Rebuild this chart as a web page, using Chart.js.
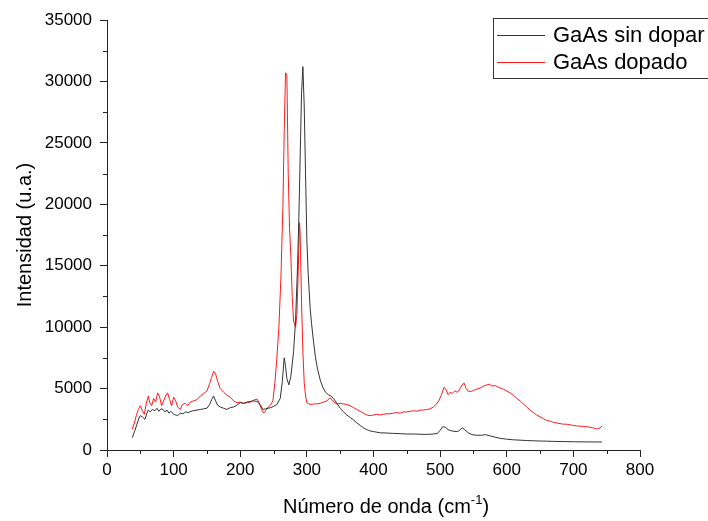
<!DOCTYPE html>
<html>
<head>
<meta charset="utf-8">
<script src="https://cdn.jsdelivr.net/npm/chart.js@4.4.1/dist/chart.umd.min.js"></script>
<style>
  body { margin: 0; background: #fff; }
  canvas { display: block; }
</style>
</head>
<body>
<canvas id="ramanChart" width="708" height="521"></canvas>
<script>
// Data

const seriesLabels = ["GaAs sin dopar", "GaAs dopado"];

const sinDoparX = [38, 42, 45, 48, 50, 53, 57, 60, 62, 65, 68, 72, 75, 78, 81, 84, 87, 90, 93, 96,
    100, 103, 106, 110, 114, 118, 122, 126, 130, 135, 140, 145, 150, 154, 157, 160, 163, 166, 170, 175,
    180, 185, 190, 195, 200, 205, 210, 215, 220, 225, 230, 234, 238, 242, 246, 250, 255, 260, 263, 266,
    268, 270, 273, 276, 280, 283, 286, 288, 290, 292, 294, 296, 298, 300, 302, 305, 307, 310, 313, 316,
    320, 324, 328, 332, 336, 340, 345, 350, 355, 360, 365, 370, 375, 380, 385, 390, 395, 400, 410, 420,
    430, 440, 450, 460, 470, 480, 490, 496, 500, 504, 508, 512, 518, 524, 528, 533, 537, 542, 548, 555,
    562, 568, 575, 582, 590, 600, 610, 620, 630, 640, 650, 660, 670, 680, 690, 700, 710, 720, 730, 743];
const sinDoparY = [1000, 1600, 2100, 2600, 2800, 2700, 2500, 3000, 3250, 3100, 3300, 3200, 3400, 3150, 3350, 3300, 3100, 3250, 3000, 3150,
    2900, 2850, 2800, 3000, 2950, 3100, 3050, 3150, 3200, 3250, 3300, 3350, 3400, 3700, 4100, 4400, 4000, 3650, 3500, 3400,
    3300, 3450, 3500, 3650, 3850, 3800, 3900, 3950, 4000, 3950, 3700, 3300, 3350, 3400, 3450, 3550, 3700, 4200, 5500, 7500,
    6800, 5800, 5300, 6000, 8000, 10500, 15000, 19000, 24000, 29000, 31200, 28000, 22500, 17000, 14300, 11500, 10300, 8800, 7500, 6600,
    5700, 5100, 4700, 4500, 4400, 4200, 3800, 3400, 3100, 2850, 2650, 2450, 2200, 2000, 1800, 1650, 1550, 1500, 1400, 1380,
    1350, 1330, 1300, 1300, 1280, 1270, 1300, 1350, 1600, 1900, 1850, 1650, 1550, 1500, 1550, 1800, 1650, 1400, 1250, 1200,
    1200, 1250, 1150, 1050, 950, 880, 830, 800, 770, 750, 730, 720, 700, 690, 680, 670, 665, 660, 655, 650];

const dopadoX = [38, 41, 44, 47, 50, 53, 56, 59, 62, 64, 67, 70, 73, 76, 79, 82, 85, 88, 91, 94,
    97, 100, 103, 106, 110, 113, 117, 121, 125, 130, 135, 140, 145, 150, 154, 157, 160, 163, 166, 170,
    175, 180, 185, 190, 195, 200, 205, 210, 215, 220, 225, 228, 232, 235, 238, 242, 246, 249, 252, 255,
    258, 261, 264, 266, 268, 270, 272, 274, 276, 278, 280, 283, 285, 287, 289, 290, 292, 294, 296, 298,
    300, 305, 310, 315, 320, 325, 330, 335, 340, 345, 350, 355, 360, 365, 370, 375, 380, 385, 390, 395,
    400, 405, 410, 415, 420, 425, 430, 435, 440, 445, 450, 455, 460, 465, 470, 475, 480, 485, 490, 494,
    498, 502, 506, 509, 512, 515, 518, 522, 526, 530, 533, 536, 539, 542, 546, 550, 555, 560, 565, 570,
    574, 578, 582, 586, 590, 595, 600, 605, 610, 615, 620, 625, 630, 635, 640, 645, 650, 655, 660, 665,
    670, 675, 680, 685, 690, 695, 700, 705, 710, 715, 720, 725, 730, 735, 740, 743];
const dopadoY = [1700, 2200, 2800, 3300, 3600, 3200, 2900, 3800, 4400, 3900, 3600, 4200, 3900, 4650, 4300, 3600, 4000, 4400, 4650, 4100,
    3600, 4300, 4000, 3500, 3300, 3700, 3800, 3600, 3900, 4000, 4100, 4400, 4600, 4800, 5400, 5900, 6400, 6200, 5600, 5000,
    4700, 4450, 4300, 4000, 3850, 3900, 3800, 3850, 3900, 4050, 4150, 3900, 3300, 3000, 3200, 3500, 3700, 4000, 5500, 7500,
    10000, 14000, 19700, 26000, 30700, 30500, 22500, 18000, 15700, 12500, 10500, 10000, 11000, 14500, 18500, 17500, 12000, 8000, 5500, 4400,
    3850, 3700, 3750, 3750, 3800, 3900, 4000, 4250, 3900, 3750, 3800, 3750, 3700, 3600, 3450, 3300, 3150, 3000, 2850, 2800,
    2850, 2900, 2850, 2900, 2950, 2950, 3000, 3050, 3000, 3100, 3100, 3150, 3200, 3150, 3250, 3250, 3300, 3350, 3500, 3700,
    4000, 4500, 5100, 4900, 4500, 4700, 4600, 4800, 4700, 5000, 5300, 5450, 5000, 4800, 4750, 4850, 4950, 5050, 5200, 5300,
    5350, 5200, 5250, 5150, 5050, 4950, 4800, 4650, 4450, 4200, 4000, 3750, 3500, 3250, 3050, 2850, 2700, 2550, 2400, 2350,
    2250, 2200, 2150, 2100, 2100, 2050, 2000, 1950, 1950, 1900, 1900, 1850, 1800, 1700, 1800, 1950];

const seriesColors = ["#333333", "#ff1a1a"];

const toPoints = (xs, ys) => xs.map((x, i) => ({ x: x, y: ys[i] }));

const FONT = "'Liberation Sans', Arial, sans-serif";
const AXIS_COLOR = "#222";

// minor ticks between the labelled ones
const minorTicks = {
    id: "minorTicks",
    afterDraw(chart) {
        const ctx = chart.ctx;
        const xs = chart.scales.x;
        const ys = chart.scales.y;
        ctx.save();
        ctx.strokeStyle = AXIS_COLOR;
        ctx.lineWidth = 1;
        ctx.beginPath();
        for (let v = 50; v < 800; v += 100) {
            const px = Math.round(xs.getPixelForValue(v)) + 0.5;
            ctx.moveTo(px, ys.bottom);
            ctx.lineTo(px, ys.bottom + 4);
        }
        for (let v = 2500; v < 35000; v += 5000) {
            const py = Math.round(ys.getPixelForValue(v)) + 0.5;
            ctx.moveTo(xs.left, py);
            ctx.lineTo(xs.left - 4, py);
        }
        ctx.stroke();
        ctx.restore();
    }
};

// axis titles (x title needs a superscript)
const axisTitles = {
    id: "axisTitles",
    afterDraw(chart) {
        const ctx = chart.ctx;
        const area = chart.chartArea;
        ctx.save();
        ctx.fillStyle = "#000";
        ctx.textBaseline = "alphabetic";

        ctx.font = "20px " + FONT;
        const main = "Número de onda (cm";
        const sup = "-1";
        const close = ")";
        const wMain = ctx.measureText(main).width;
        const wClose = ctx.measureText(close).width;
        ctx.font = "13px " + FONT;
        const wSup = ctx.measureText(sup).width;
        let x = 386 - (wMain + wSup + wClose) / 2;
        const base = 513;
        ctx.font = "20px " + FONT;
        ctx.fillText(main, x, base);
        x += wMain;
        ctx.font = "13px " + FONT;
        ctx.fillText(sup, x, base - 9);
        x += wSup;
        ctx.font = "20px " + FONT;
        ctx.fillText(close, x, base);

        ctx.translate(25, (area.top + area.bottom) / 2);
        ctx.rotate(-Math.PI / 2);
        ctx.textAlign = "center";
        ctx.textBaseline = "middle";
        ctx.fillText("Intensidad (u.a.)", 0, 0);
        ctx.restore();
    }
};

// boxed legend in the top right corner
const boxLegend = {
    id: "boxLegend",
    afterDraw(chart) {
        const ctx = chart.ctx;
        ctx.save();
        ctx.strokeStyle = "#333";
        ctx.lineWidth = 1;
        ctx.strokeRect(493.5, 18.5, 220, 60);
        ctx.font = "22px " + FONT;
        ctx.textBaseline = "middle";
        ctx.fillStyle = "#000";
        chart.data.datasets.forEach((ds, i) => {
            const y = 35 + i * 27;
            ctx.strokeStyle = ds.borderColor;
            ctx.beginPath();
            ctx.moveTo(497, y + 0.5);
            ctx.lineTo(545, y + 0.5);
            ctx.stroke();
            ctx.fillText(ds.label, 553, y + 1);
        });
        ctx.restore();
    }
};

new Chart(document.getElementById("ramanChart"), {
    type: "line",
    data: {
        datasets: [
            {
                label: seriesLabels[0],
                data: toPoints(sinDoparX, sinDoparY),
                borderColor: seriesColors[0],
                borderWidth: 1,
                pointRadius: 0,
                tension: 0
            },
            {
                label: seriesLabels[1],
                data: toPoints(dopadoX, dopadoY),
                borderColor: seriesColors[1],
                borderWidth: 1,
                pointRadius: 0,
                tension: 0
            }
        ]
    },
    options: {
        responsive: false,
        animation: false,
        devicePixelRatio: 1,
        layout: { padding: { top: 20, right: 68, left: 0, bottom: 0 } },
        plugins: {
            legend: { display: false },
            tooltip: { enabled: false }
        },
        scales: {
            x: {
                type: "linear",
                min: 0,
                max: 800,
                afterFit: s => { s.height = 71; },
                ticks: {
                    stepSize: 100,
                    color: "#000",
                    font: { size: 17, family: FONT },
                    padding: 3,
                    maxRotation: 0
                },
                grid: {
                    drawOnChartArea: false,
                    drawTicks: true,
                    tickLength: 7,
                    color: AXIS_COLOR
                },
                border: { display: true, color: AXIS_COLOR, width: 1 }
            },
            y: {
                min: 0,
                max: 35000,
                afterFit: s => { s.width = 107; },
                ticks: {
                    stepSize: 5000,
                    color: "#000",
                    font: { size: 17, family: FONT },
                    padding: 8,
                    callback: v => String(v)
                },
                grid: {
                    drawOnChartArea: false,
                    drawTicks: true,
                    tickLength: 7,
                    color: AXIS_COLOR
                },
                border: { display: true, color: AXIS_COLOR, width: 1 }
            }
        }
    },
    plugins: [minorTicks, axisTitles, boxLegend]
});
</script>
</body>
</html>
